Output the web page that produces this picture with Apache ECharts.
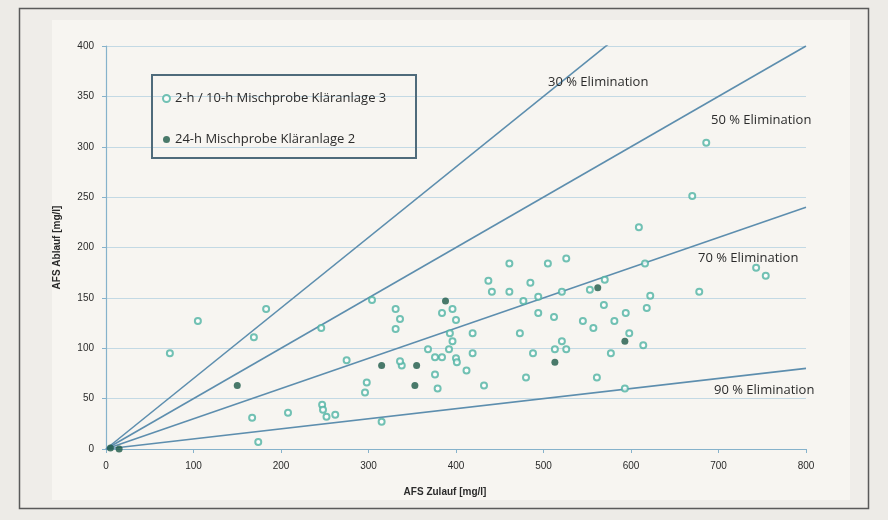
<!DOCTYPE html>
<html><head><meta charset="utf-8">
<script src="https://cdn.jsdelivr.net/npm/echarts@6/dist/echarts.min.js"></script>
<style>html,body{margin:0;padding:0;background:#edebe7}#c{width:888px;height:520px}</style>
</head><body><div id="c"></div>
<script>
// ---- data ----
const seriesNames = ['2-h / 10-h Mischprobe Kläranlage 3', '24-h Mischprobe Kläranlage 2'];
const xTitle = 'AFS Zulauf [mg/l]';
const yTitle = 'AFS Ablauf [mg/l]';
const xTicks = [0, 100, 200, 300, 400, 500, 600, 700, 800];
const yTicks = [0, 50, 100, 150, 200, 250, 300, 350, 400];
const eliminationRates = [30, 50, 70, 90];
const eliminationLabels = ['30 % Elimination', '50 % Elimination', '70 % Elimination', '90 % Elimination'];

// 2-h / 10-h Mischprobe Kläranlage 3 : [Zulauf, Ablauf]
const mix3 = [
  [183,139],[105,127],[169,111],[73,95],[167,31],[174,7],[208,36],
  [246,120],[247,44],[248,39],[252,32],[262,34],
  [304,148],[331,139],[336,129],[331,119],[275,88],[298,66],[296,56],[315,27],
  [338,83],[336,87],[384,135],[396,139],[400,128],[393,115],[419,115],[396,107],
  [368,99],[392,99],[419,95],[376,91],[384,91],[400,90],[401,86],[412,78],
  [376,74],[379,60],[432,63],[437,167],[441,156],[461,156],[461,184],[485,165],
  [477,147],[494,151],[494,135],[473,115],[488,95],[480,71],[505,184],[526,189],
  [512,131],[521,107],[513,99],[526,99],[545,127],[521,156],[553,158],[570,168],
  [569,143],[557,120],[581,127],[594,135],[598,115],[577,95],[614,103],[618,140],
  [622,152],[616,184],[609,220],[561,71],[593,60],[670,251],[686,304],[678,156],
  [743,180],[754,172],[802,184]
];
// 24-h Mischprobe Kläranlage 2
const mix2 = [
  [5,1],[15,0],[150,63],[315,83],[355,83],[353,63],[388,147],[513,86],[562,160],[593,107]
];

const xMax = xTicks[xTicks.length - 1];
const yMax = yTicks[yTicks.length - 1];

const chart = echarts.init(document.getElementById('c'));
const txt = '#2b2b2b';
const font = '"Liberation Sans", Arial, sans-serif';
const font2 = '"Open Sans", "Liberation Sans", sans-serif';

const lineSeries = eliminationRates.map(r => ({
  type: 'line',
  name: r + '%',
  data: [[0, 0], [xMax, xMax * (100 - r) / 100]],
  symbol: 'none',
  silent: true,
  clip: true,
  lineStyle: { color: '#5d8eae', width: 1.6 },
  z: 2
}));

const labelPos = [[548, 82], [711, 120], [698, 258], [714, 390]];

chart.setOption({
  backgroundColor: '#edebe7',
  animation: false,
  textStyle: { fontFamily: font },
  graphic: [
    { type: 'rect', shape: { x: 19.5, y: 8.5, width: 849, height: 500 }, style: { fill: '#efede9', stroke: '#5a5a5a', lineWidth: 1.5 }, z: -10 },
    { type: 'rect', shape: { x: 52, y: 20, width: 798, height: 480 }, style: { fill: '#f7f5f1' }, z: -9 },
    { type: 'rect', shape: { x: 152, y: 75, width: 264, height: 83 }, style: { fill: 'transparent', stroke: '#4f6b7b', lineWidth: 2 }, z: 5 }
  ].concat(eliminationLabels.map((t, i) => ({
    type: 'text', left: labelPos[i][0], top: labelPos[i][1] - 6, z: 6,
    style: { text: t, fill: txt, font: '13px ' + font2 }
  }))),
  grid: { left: 106, right: 82, top: 46, bottom: 71, containLabel: false },
  legend: {
    data: seriesNames,
    orient: 'vertical',
    left: 157, top: 87,
    itemGap: 28,
    itemWidth: 7, itemHeight: 7,
    textStyle: { color: txt, fontSize: 13, fontFamily: font2 }
  },
  xAxis: {
    type: 'value', min: 0, max: xMax, interval: 100,
    name: xTitle, nameLocation: 'middle', nameGap: 38,
    nameTextStyle: { color: txt, fontSize: 10, fontWeight: 'bold', padding: [0, 22, 0, 0] },
    axisLine: { show: true, lineStyle: { color: '#86b2cb', width: 1.2 } },
    axisTick: { show: true, length: 4, lineStyle: { color: '#86b2cb' } },
    axisLabel: { color: txt, fontSize: 10, margin: 12 },
    splitLine: { show: false }
  },
  yAxis: {
    type: 'value', min: 0, max: yMax, interval: 50,
    name: yTitle, nameLocation: 'middle', nameGap: 44, nameRotate: 90,
    nameTextStyle: { color: txt, fontSize: 10, fontWeight: 'bold' },
    axisLine: { show: true, lineStyle: { color: '#86b2cb', width: 1.2 } },
    axisTick: { show: true, length: 4, lineStyle: { color: '#86b2cb' } },
    axisLabel: { color: txt, fontSize: 10, margin: 12 },
    splitLine: { show: true, lineStyle: { color: '#c3d9e4', width: 1 } }
  },
  series: lineSeries.concat([
    {
      type: 'scatter', name: seriesNames[0], data: mix3,
      symbol: 'emptyCircle', symbolSize: 6,
      itemStyle: { color: '#4fb3a3', borderColor: '#4fb3a3', borderWidth: 1.3 },
      z: 4
    },
    {
      type: 'scatter', name: seriesNames[1], data: mix2,
      symbol: 'circle', symbolSize: 7,
      itemStyle: { color: '#1d5a48' },
      z: 5
    }
  ])
});
</script></body></html>
